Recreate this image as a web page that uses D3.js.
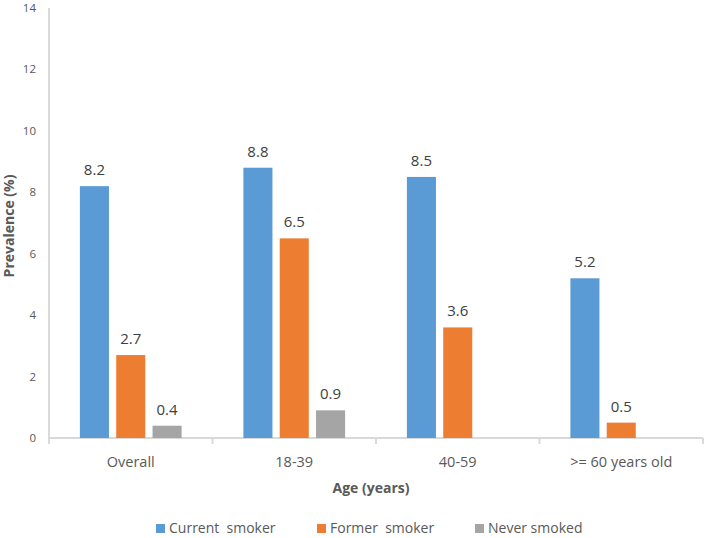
<!DOCTYPE html>
<html><head><meta charset="utf-8">
<script src="https://cdn.jsdelivr.net/npm/d3@7/dist/d3.min.js"></script>
<style>body{margin:0;background:#fff}svg{font-family:"Open Sans",sans-serif}</style>
</head><body><svg id="c" width="709" height="538"></svg>
<script>
const categories = ["Overall", "18-39", "40-59", ">= 60 years old"];
const seriesNames = ["Current  smoker", "Former  smoker", "Never smoked"];
const currentSmoker = [8.2, 8.8, 8.5, 5.2];
const formerSmoker = [2.7, 6.5, 3.6, 0.5];
const neverSmoked = [0.4, 0.9, null, null];
const yTicks = [0, 2, 4, 6, 8, 10, 12, 14];
const colors = ["#5B9BD5", "#ED7D31", "#A5A5A5"];

const series = [currentSmoker, formerSmoker, neverSmoked];
const svg = d3.select("#c");
const L = 49, R = 703, T = 8, B = 438;
const x = d3.scaleBand().domain(categories).range([L, R]).paddingInner(0).paddingOuter(0);
const y = d3.scaleLinear().domain([0, 14]).range([B, T]);
const x1 = d3.scaleBand().domain([0,1,2]).range([0, x.bandwidth()]).paddingInner(0.2).paddingOuter(0.85);

// y axis labels
svg.append("g").selectAll("text").data(yTicks).join("text")
  .attr("x", 36).attr("y", d => y(d) + 4).attr("text-anchor", "end")
  .attr("font-size", 11.5).attr("fill", "#595959").text(d => d);
// axis lines
svg.append("line").attr("x1", L).attr("x2", L).attr("y1", T).attr("y2", B)
  .attr("stroke", "#d9d9d9").attr("stroke-width", 2);
svg.append("line").attr("x1", L - 1).attr("x2", R).attr("y1", B).attr("y2", B)
  .attr("stroke", "#d9d9d9").attr("stroke-width", 2);
const bounds = categories.map(c => x(c)).concat([R]);
svg.append("g").selectAll("line").data(bounds).join("line")
  .attr("x1", d => d).attr("x2", d => d).attr("y1", B).attr("y2", B + 6)
  .attr("stroke", "#d9d9d9").attr("stroke-width", 2);

// bars
series.forEach((vals, si) => {
  const g = svg.append("g");
  const data = categories.map((c, i) => ({c, v: vals[i]})).filter(d => d.v != null);
  g.selectAll("rect").data(data).join("rect")
    .attr("x", d => x(d.c) + x1(si)).attr("width", x1.bandwidth())
    .attr("y", d => y(d.v)).attr("height", d => B - y(d.v))
    .attr("fill", colors[si]);
  g.selectAll("text").data(data).join("text")
    .attr("x", d => x(d.c) + x1(si) + x1.bandwidth() / 2).attr("y", d => y(d.v) - 11)
    .attr("text-anchor", "middle").attr("font-size", 15).attr("fill", "#404040")
    .text(d => d.v.toFixed(1));
});

// category labels
svg.append("g").selectAll("text").data(categories).join("text")
  .attr("x", d => x(d) + x.bandwidth() / 2).attr("y", 467).attr("text-anchor", "middle")
  .attr("font-size", 14.5).attr("fill", "#595959").text(d => d);

// axis titles
svg.append("text").attr("x", 371).attr("y", 493).attr("text-anchor", "middle")
  .attr("font-size", 14).attr("font-weight", "bold").attr("fill", "#595959").text("Age (years)");
svg.append("text").attr("transform", "translate(14,226) rotate(-90)").attr("text-anchor", "middle")
  .attr("font-size", 14).attr("font-weight", "bold").attr("fill", "#595959").text("Prevalence (%)");

// legend
const legX = [156, 317, 475];
const lg = svg.append("g").selectAll("g").data(seriesNames).join("g")
  .attr("transform", (d, i) => `translate(${legX[i]},0)`);
lg.append("rect").attr("x", 0).attr("y", 524).attr("width", 9).attr("height", 9).attr("fill", (d, i) => colors[i]);
lg.append("text").attr("x", 13).attr("y", 533).attr("font-size", 14).attr("fill", "#595959")
  .style("white-space", "pre").attr("xml:space", "preserve").text(d => d);
</script></body></html>
